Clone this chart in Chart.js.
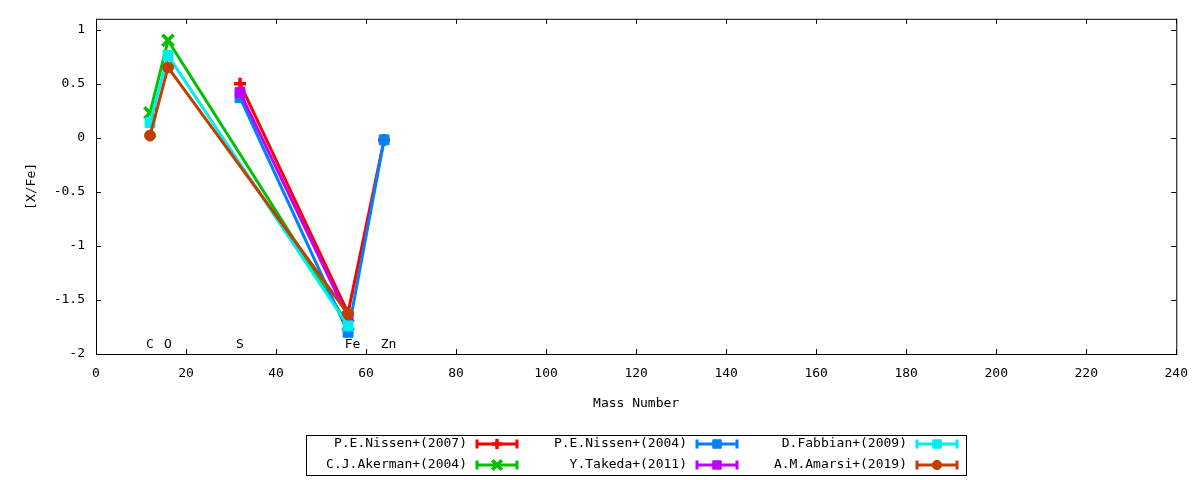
<!DOCTYPE html>
<html>
<head>
<meta charset="utf-8">
<title>[X/Fe] vs Mass Number</title>
<script src="https://cdn.jsdelivr.net/npm/chart.js@4.4.0/dist/chart.umd.min.js"></script>
<style>
  html, body { margin: 0; padding: 0; background: #fff; }
  #wrap { width: 1200px; height: 480px; }
</style>
</head>
<body>
<div id="wrap"><canvas id="chart" width="1200" height="480"></canvas></div>
<script>
// element labels and their mass numbers
const elements = ['C', 'O', 'S', 'Fe', 'Zn'];
const massNumbers = [12, 16, 32, 56, 64];
const labelPositions = [12, 16, 32, 57, 65];

// [X/Fe] per element (null = not measured)
const nissen2007  = [null, null, 0.50, -1.62, -0.02];
const akerman2004 = [0.23, 0.90, null, -1.73, null];
const nissen2004  = [null, null, 0.37, -1.80, -0.02];
const takeda2011  = [null, null, 0.42, -1.66, null];
const fabbian2009 = [0.14, 0.76, null, -1.74, null];
const amarsi2019  = [0.02, 0.65, null, -1.63, null];

const seriesNames = ['P.E.Nissen+(2007)', 'C.J.Akerman+(2004)', 'P.E.Nissen+(2004)',
                     'Y.Takeda+(2011)', 'D.Fabbian+(2009)', 'A.M.Amarsi+(2019)'];
const seriesValues = [nissen2007, akerman2004, nissen2004, takeda2011, fabbian2009, amarsi2019];

const xMin = 0, xMax = 240, xStep = 20;
const yMin = -2, yMax = 1.1;
const yTicks = [-2, -1.5, -1, -0.5, 0, 0.5, 1];

// gnuplot-like styles
const colors = ['#ff0000', '#00c000', '#0080ff', '#c000ff', '#00eeee', '#c04000'];
const pointStyles = ['cross', 'crossRot', 'rect', 'rect', 'rect', 'circle'];
const pointRadii = [6, 8, 7, 7, 7, 5.5];
const pointBorders = [3.5, 3.5, 1, 1, 1, 1];

const FONT = '13px "DejaVu Sans Mono", "Liberation Mono", monospace';

const datasets = seriesNames.map((name, i) => ({
  label: name,
  data: massNumbers.map((m, j) => ({ x: m, y: seriesValues[i][j] }))
                   .filter(p => p.y !== null),
  borderColor: colors[i],
  backgroundColor: colors[i],
  borderWidth: 3,
  pointStyle: pointStyles[i],
  pointRadius: pointRadii[i],
  pointBorderWidth: pointBorders[i],
  pointBackgroundColor: colors[i],
  pointBorderColor: colors[i],
  tension: 0,
  order: seriesNames.length - i   // later series on top, like gnuplot
}));

const frame = {
  id: 'frame',
  afterDatasetsDraw(chart) {
    const ctx = chart.ctx;
    const a = chart.chartArea;
    const xs = chart.scales.x, ys = chart.scales.y;
    ctx.save();
    // element labels near the bottom of the plot
    ctx.font = FONT;
    ctx.fillStyle = '#000';
    ctx.textAlign = 'center';
    ctx.textBaseline = 'middle';
    elements.forEach((el, i) => {
      ctx.fillText(el, xs.getPixelForValue(labelPositions[i]), ys.getPixelForValue(-1.91));
    });
    // border with inward ticks on all four sides
    ctx.strokeStyle = '#000';
    ctx.lineWidth = 1;
    ctx.strokeRect(a.left + 0.5, a.top + 0.5, a.right - a.left, a.bottom - a.top);
    const tl = 5;
    ctx.beginPath();
    xs.ticks.forEach(t => {
      const px = Math.round(xs.getPixelForValue(t.value)) + 0.5;
      ctx.moveTo(px, a.bottom); ctx.lineTo(px, a.bottom - tl);
      ctx.moveTo(px, a.top); ctx.lineTo(px, a.top + tl);
    });
    ys.ticks.forEach(t => {
      const py = Math.round(ys.getPixelForValue(t.value)) + 0.5;
      ctx.moveTo(a.left, py); ctx.lineTo(a.left + tl, py);
      ctx.moveTo(a.right, py); ctx.lineTo(a.right - tl, py);
    });
    ctx.stroke();
    ctx.restore();
  },
  afterDraw(chart) {
    const ctx = chart.ctx;
    const a = chart.chartArea;
    ctx.save();
    ctx.font = FONT;
    ctx.fillStyle = '#000';
    ctx.textAlign = 'center';
    ctx.textBaseline = 'middle';
    // axis titles
    ctx.fillText('Mass Number', (a.left + a.right) / 2, 404);
    ctx.save();
    ctx.translate(32, (a.top + a.bottom) / 2);
    ctx.rotate(-Math.PI / 2);
    ctx.fillText('[X/Fe]', 0, 0);
    ctx.restore();

    // legend box: 3 columns x 2 rows, filled column by column
    const colW = 220;
    const boxW = colW * 3, boxL = Math.round((a.left + a.right) / 2 - boxW / 2);
    const boxT = 435, boxB = 475;
    ctx.strokeStyle = '#000';
    ctx.lineWidth = 1;
    ctx.strokeRect(boxL + 0.5, boxT + 0.5, boxW, boxB - boxT);
    const rowY = [444, 465];
    chart.data.datasets.forEach((ds, i) => {
      const col = Math.floor(i / 2), row = i % 2;
      const x0 = boxL + col * colW;
      const y = rowY[row];
      ctx.fillStyle = '#000';
      ctx.textAlign = 'right';
      ctx.fillText(ds.label, x0 + 161, y);
      const s0 = x0 + 170, s1 = x0 + 212;
      ctx.strokeStyle = ds.borderColor;
      ctx.lineWidth = 3;
      ctx.beginPath();
      ctx.moveTo(s0, y); ctx.lineTo(s1, y);
      ctx.moveTo(s0 + 1, y - 4.5); ctx.lineTo(s0 + 1, y + 4.5);
      ctx.moveTo(s1 - 1, y - 4.5); ctx.lineTo(s1 - 1, y + 4.5);
      ctx.stroke();
      ctx.fillStyle = ds.pointBackgroundColor;
      ctx.lineWidth = ds.pointBorderWidth;
      Chart.helpers.drawPoint(ctx, {
        pointStyle: ds.pointStyle,
        radius: ds.pointRadius * 0.85,
        rotation: 0,
        borderWidth: ds.pointBorderWidth
      }, (s0 + s1) / 2, y);
    });
    ctx.restore();
  }
};

Chart.defaults.color = '#000';
Chart.defaults.font.family = '"DejaVu Sans Mono", "Liberation Mono", monospace';
Chart.defaults.font.size = 13;

new Chart(document.getElementById('chart').getContext('2d'), {
  type: 'line',
  data: { datasets: datasets },
  options: {
    responsive: false,
    devicePixelRatio: 1,
    animation: false,
    layout: { padding: { left: 0, right: 23, top: 17, bottom: 0 } },
    plugins: {
      legend: { display: false },
      tooltip: { enabled: false }
    },
    scales: {
      x: {
        type: 'linear',
        min: xMin, max: xMax,
        grid: { display: false, drawTicks: false },
        border: { display: false },
        ticks: { stepSize: xStep, padding: 12, maxRotation: 0, autoSkip: false,
                 callback: v => String(v) },
        afterFit: s => { s.height = 126; }
      },
      y: {
        type: 'linear',
        min: yMin, max: yMax,
        grid: { display: false, drawTicks: false },
        border: { display: false },
        ticks: { padding: 11, autoSkip: false, callback: v => String(v) },
        afterBuildTicks: s => { s.ticks = yTicks.map(v => ({ value: v })); },
        afterFit: s => { s.width = 96; }
      }
    }
  },
  plugins: [frame]
});
</script>
</body>
</html>
